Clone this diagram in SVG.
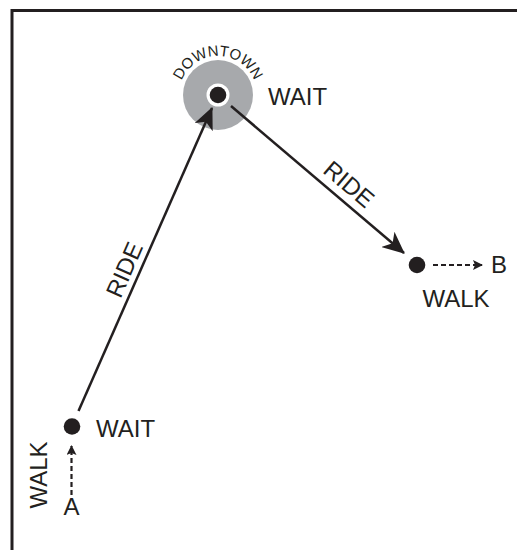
<svg xmlns="http://www.w3.org/2000/svg" width="517" height="550" viewBox="0 0 517 550">
<style>
text{font-family:"Liberation Sans",Arial,sans-serif;fill:#231f20}
.lbl{font-size:24px}
.ride{stroke:#231f20;stroke-width:2.5;fill:none}
.walk{stroke:#231f20;stroke-width:2.2;stroke-dasharray:5 3;fill:none}
.dot{fill:#231f20}
</style>
<defs>
<marker id="big" viewBox="0 0 22 20" refX="21" refY="10" markerWidth="22" markerHeight="20" markerUnits="userSpaceOnUse" orient="auto">
<path d="M0,0 L22,10 L0,20 L6,10 Z" fill="#231f20"/>
</marker>
<marker id="small" viewBox="0 0 10 10" refX="9" refY="5" markerWidth="10" markerHeight="10" markerUnits="userSpaceOnUse" orient="auto">
<path d="M0,0 L10,5 L0,10 L2,5 Z" fill="#231f20"/>
</marker>
<path id="arc" d="M179,95 A39,39 0 0 1 257,95"/>
</defs>
<rect width="517" height="550" fill="#fff"/>
<path d="M12,550 L12,10.5 L517,10.5" stroke="#231f20" stroke-width="3" fill="none"/>
<g id="downtown">
<circle cx="218" cy="95" r="35" fill="#a7a9ac"/>
<circle cx="218" cy="95" r="11.5" fill="#fff"/>
<circle cx="218" cy="95" r="8.3" class="dot"/>
<text font-size="15"><textPath href="#arc" startOffset="50%" text-anchor="middle">DOWNTOWN</textPath></text>
<text class="lbl" x="268" y="105">WAIT</text>
</g>
<g id="start">
<circle cx="72" cy="426.5" r="8.3" class="dot"/>
<text class="lbl" x="96" y="437">WAIT</text>
</g>
<g id="end">
<circle cx="417" cy="265" r="8.3" class="dot"/>
<text class="lbl" x="456" y="307" text-anchor="middle">WALK</text>
</g>
<g id="A">
<text class="lbl" x="71.5" y="515" text-anchor="middle">A</text>
<text class="lbl" transform="translate(47,475) rotate(-90)" text-anchor="middle">WALK</text>
</g>
<g id="B">
<text class="lbl" x="491" y="273">B</text>
</g>
<g id="connectors">
<path class="ride" d="M78.5,411 L212,108" marker-end="url(#big)"/>
<path class="ride" d="M231,106 L404,253" marker-end="url(#big)"/>
<path class="walk" d="M433,265 L482,265" marker-end="url(#small)"/>
<path class="walk" d="M71.5,495 L71.5,446" marker-end="url(#small)"/>
<text class="lbl" transform="translate(132,273) rotate(-66.2)" text-anchor="middle">RIDE</text>
<text class="lbl" transform="translate(343.5,190.5) rotate(40.4)" text-anchor="middle">RIDE</text>
</g>
</svg>
